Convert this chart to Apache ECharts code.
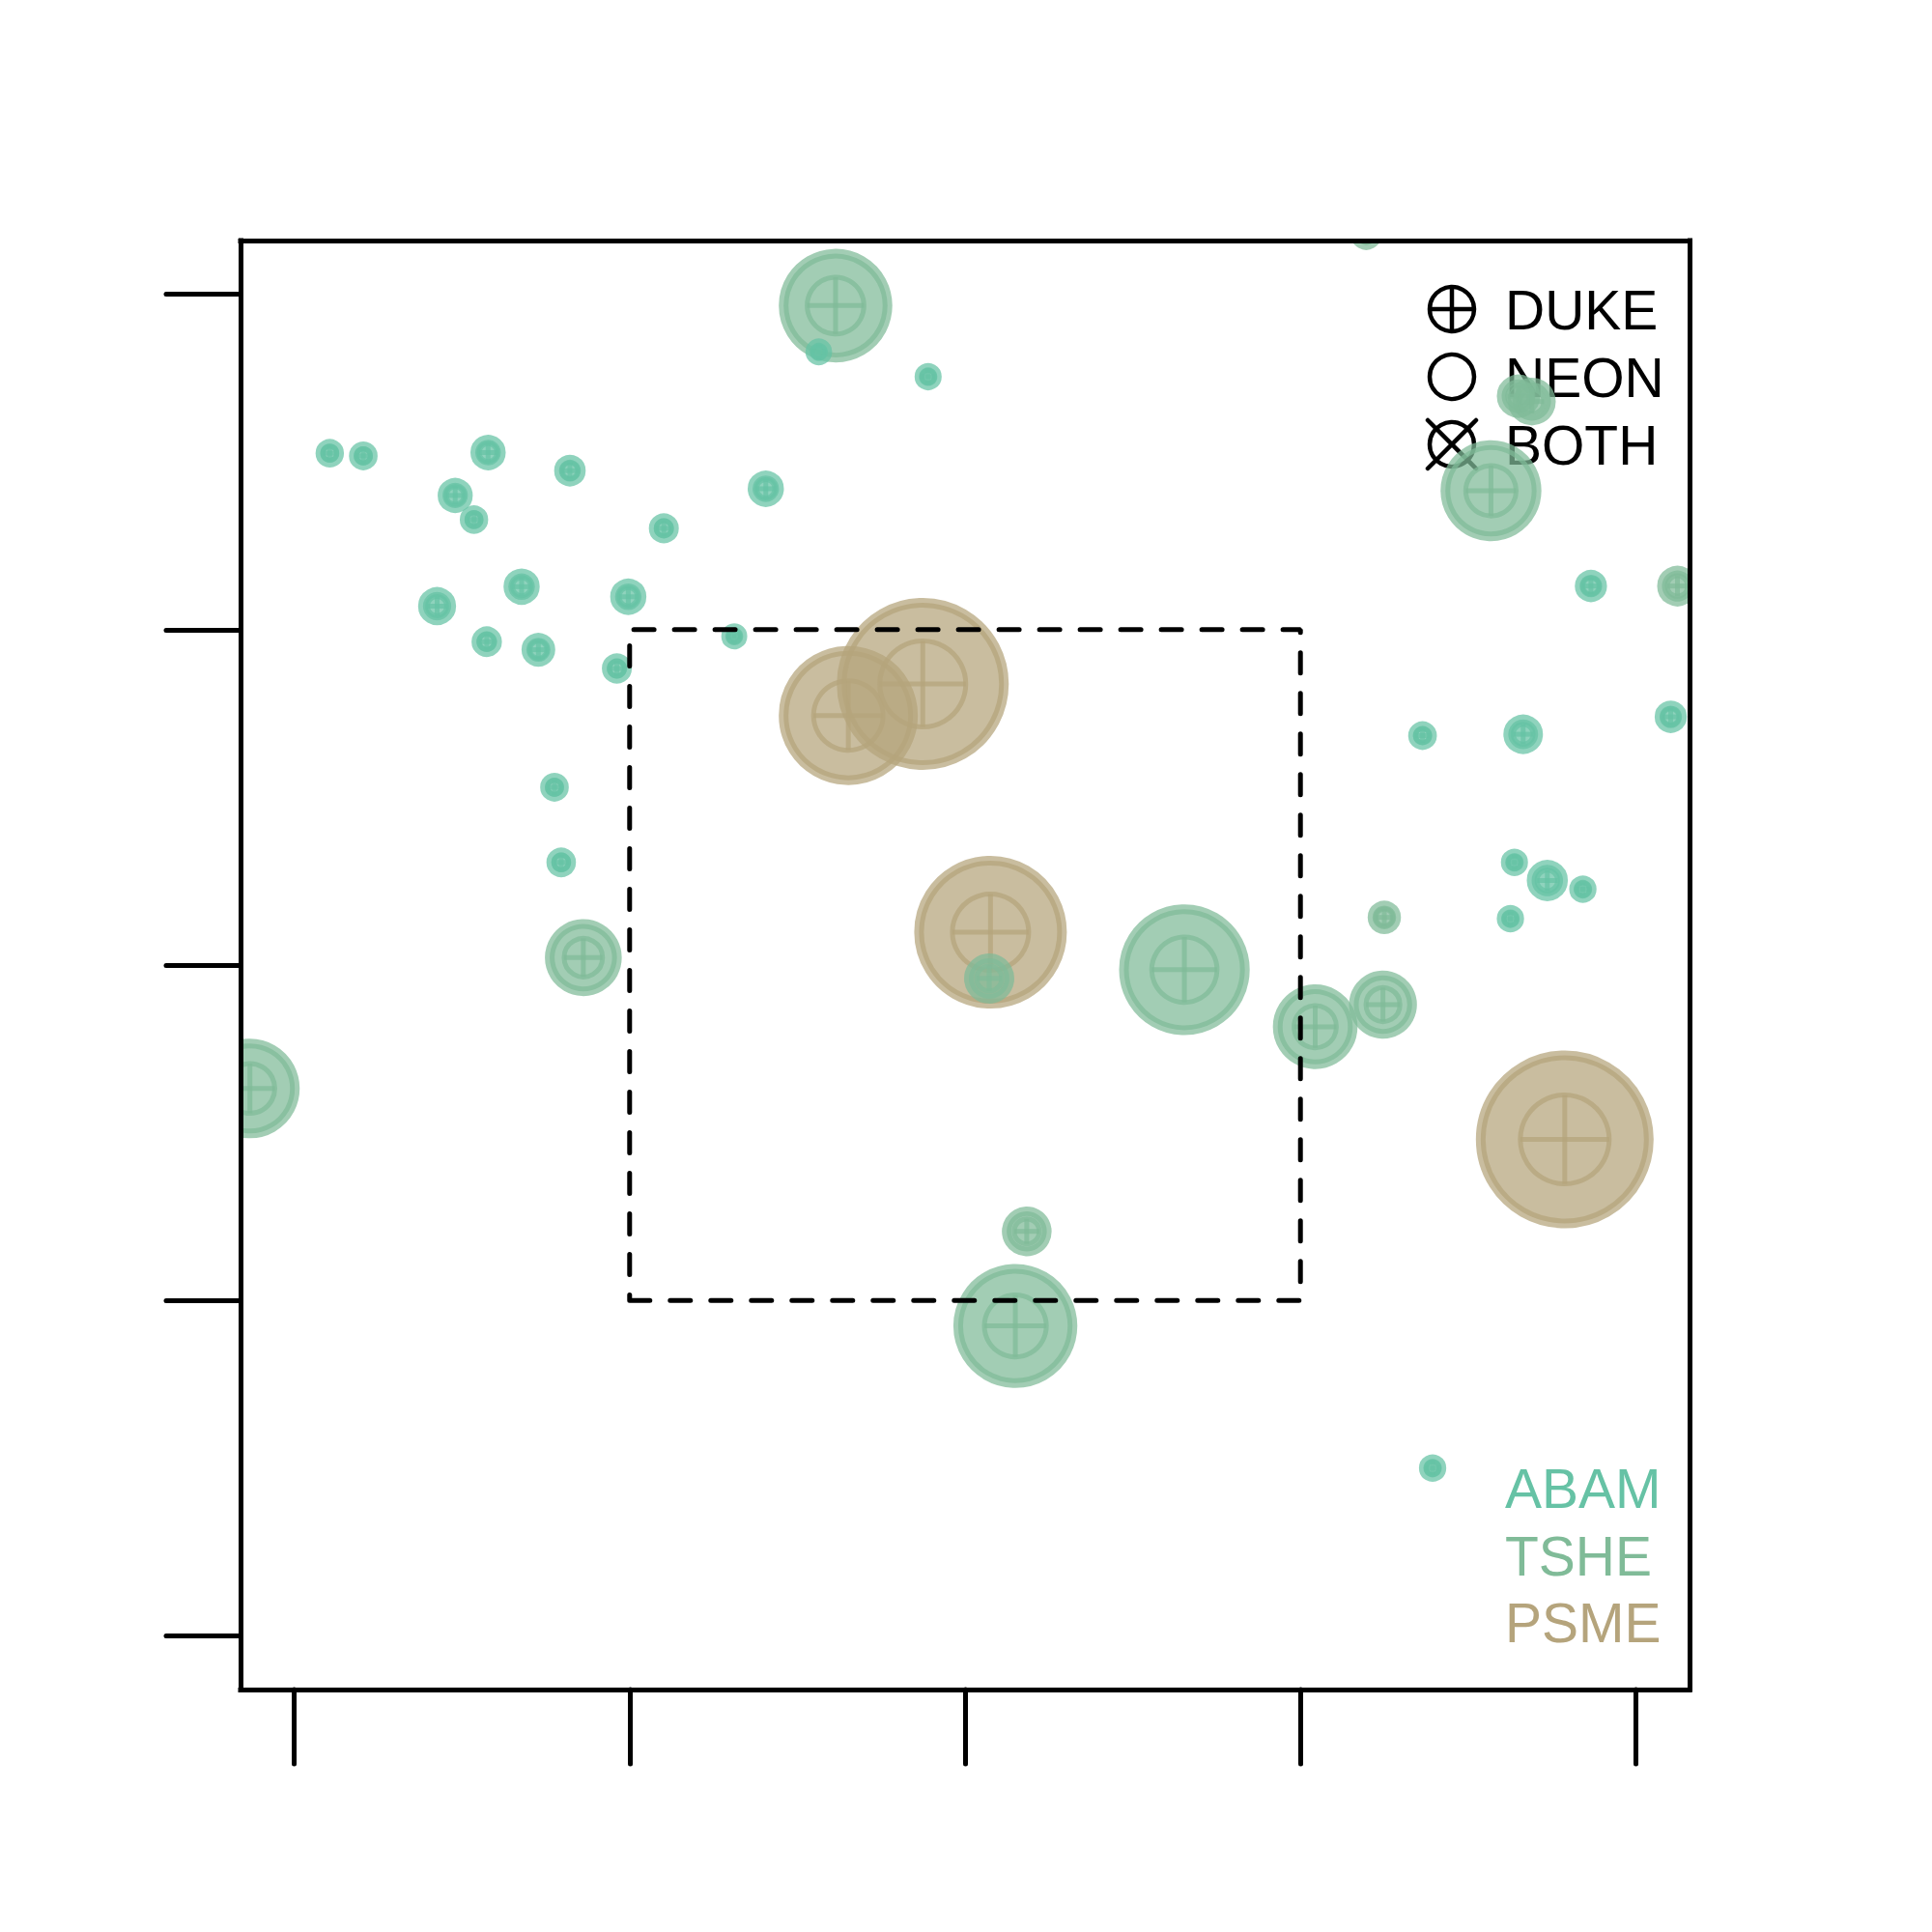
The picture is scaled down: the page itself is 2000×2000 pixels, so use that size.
<!DOCTYPE html>
<html>
<head>
<meta charset="utf-8">
<script src="https://cdn.jsdelivr.net/npm/echarts@6/dist/echarts.min.js"></script>
<style>
html,body{margin:0;padding:0;background:#fff;}
#chart{width:2000px;height:2000px;}
</style>
</head>
<body>
<div id="chart"></div>
<script>
// ---------------- DATA ----------------
// Stem positions (plot coordinates, m) and DBH (cm) by species
const abamX   = [0.53, 1.03, 2.89, 4.11, 2.40, 2.68, 5.51, 7.03, 3.39, 2.13, 4.98, 2.87, 3.64, 4.81, 6.56, 3.88, 3.98, 7.82, 9.45, 19.33, 20.52, 16.82, 18.32, 18.19, 18.68, 19.21, 18.13, 16.97];
const abamY   = [17.63, 17.59, 17.64, 17.37, 17.00, 16.64, 16.51, 17.10, 15.64, 15.35, 15.49, 14.82, 14.70, 14.42, 14.90, 12.65, 11.53, 19.14, 18.77, 15.65, 13.70, 13.42, 13.44, 11.53, 11.26, 11.13, 10.69, 2.50];
const abamDbh = [12.8, 12.9, 15.9, 14.2, 15.8, 12.8, 13.5, 16.3, 16.3, 17.1, 16.3, 13.7, 15.2, 13.5, 11.7, 12.9, 13.3, 12.0, 12.2, 14.5, 14.5, 12.9, 17.8, 12.2, 18.5, 12.3, 12.3, 12.3];

const tsheX   = [8.07, 15.98, 18.25, 18.45, 17.84, 20.62, 16.25, 15.22, 16.23, 4.31, -0.66, 10.36, 13.27, 10.92, 10.75];
const tsheY   = [19.83, 20.89, 18.48, 18.40, 17.07, 15.65, 10.71, 9.08, 9.41, 10.11, 8.16, 9.80, 9.93, 6.03, 4.62];
const tsheDbh = [51.1, 13.9, 19.5, 21.5, 45.4, 18.3, 15.0, 38.1, 30.6, 34.6, 44.8, 22.6, 58.8, 22.4, 55.8];

const psmeX   = [8.26, 9.37, 10.38, 18.94];
const psmeY   = [13.72, 14.19, 10.49, 7.40];
const psmeDbh = [62.6, 77.4, 68.7, 80.0];

const species = ['ABAM', 'TSHE', 'PSME'];
const sourceLabels = ['DUKE', 'NEON', 'BOTH'];
const tickValues = [0, 5, 10, 15, 20];
const innerX = [5, 15, 15, 5, 5];   // inner subplot outline (plot coordinates)
const innerY = [5, 5, 15, 15, 5];

// ---------------- STYLE ----------------
const speciesColor = { ABAM: [102, 194, 165], TSHE: [128, 187, 152], PSME: [181, 164, 124] };
const ALPHA = 0.73;
const PX_PER_CM = 1.15;
const RING = 10;
const FONT = '"Liberation Sans", Arial, Helvetica, sans-serif';

function rgba(c, a) { return 'rgba(' + c[0] + ',' + c[1] + ',' + c[2] + ',' + a + ')'; }
function hex(c) { return '#' + c.map(v => v.toString(16).padStart(2, '0')).join(''); }

function zipData(xs, ys, ds) { return xs.map((x, i) => [x, ys[i], ds[i]]); }

function bubbleRenderer(col) {
  return function (params, api) {
    const p = api.coord([api.value(0), api.value(1)]);
    const R = api.value(2) * PX_PER_CM;
    const rf = Math.max(R - RING / 2, 1);
    const ri = R * 0.5;
    const lw = 5;
    const c = rgba(col, ALPHA);
    return {
      type: 'group',
      children: [
        { type: 'circle', shape: { cx: p[0], cy: p[1], r: rf }, style: { fill: c, stroke: c, lineWidth: RING } },
        { type: 'circle', shape: { cx: p[0], cy: p[1], r: ri }, style: { fill: 'none', stroke: c, lineWidth: lw } },
        { type: 'line', shape: { x1: p[0] - ri, y1: p[1], x2: p[0] + ri, y2: p[1] }, style: { stroke: c, lineWidth: lw } },
        { type: 'line', shape: { x1: p[0], y1: p[1] - ri, x2: p[0], y2: p[1] + ri }, style: { stroke: c, lineWidth: lw } }
      ]
    };
  };
}

const dataBySpecies = {
  ABAM: zipData(abamX, abamY, abamDbh),
  TSHE: zipData(tsheX, tsheY, tsheDbh),
  PSME: zipData(psmeX, psmeY, psmeDbh)
};

// draw order: PSME first, then TSHE, then ABAM on top
const drawOrder = ['PSME', 'TSHE', 'ABAM'];
const bubbleSeries = drawOrder.map(sp => ({
  name: sp,
  type: 'custom',
  clip: true,
  z: 2,
  renderItem: bubbleRenderer(speciesColor[sp]),
  encode: { x: 0, y: 1 },
  data: dataBySpecies[sp],
  silent: true
}));

const axisLineStyle = { color: '#000', width: 5, cap: 'square' };
function makeAxis(pos, withTicks) {
  return {
    type: 'value',
    position: pos,
    min: -0.8,
    max: 20.8,
    z: 10,
    axisLine: { show: true, onZero: false, lineStyle: axisLineStyle },
    axisTick: withTicks ? { show: true, inside: false, length: 77, customValues: tickValues, lineStyle: { color: '#000', width: 5, cap: 'round' } } : { show: false },
    axisLabel: { show: false },
    splitLine: { show: false }
  };
}

// ---------------- LEGEND (graphic) ----------------
const legX = 1503, legTextX = 1558, legY0 = 320, legStep = 70, symR = 23, symLW = 4.5;
const graphics = [];
// DUKE: circle plus
graphics.push({ type: 'circle', shape: { cx: legX, cy: legY0, r: symR }, style: { fill: 'none', stroke: '#000', lineWidth: symLW } });
graphics.push({ type: 'line', shape: { x1: legX - symR, y1: legY0, x2: legX + symR, y2: legY0 }, style: { stroke: '#000', lineWidth: symLW } });
graphics.push({ type: 'line', shape: { x1: legX, y1: legY0 - symR, x2: legX, y2: legY0 + symR }, style: { stroke: '#000', lineWidth: symLW } });
// NEON: circle
graphics.push({ type: 'circle', shape: { cx: legX, cy: legY0 + legStep, r: symR }, style: { fill: 'none', stroke: '#000', lineWidth: symLW } });
// BOTH: circle times
const by = legY0 + 2 * legStep;
graphics.push({ type: 'circle', shape: { cx: legX, cy: by, r: symR }, style: { fill: 'none', stroke: '#000', lineWidth: symLW } });
graphics.push({ type: 'line', shape: { x1: legX - 25, y1: by - 25, x2: legX + 25, y2: by + 25 }, style: { stroke: '#000', lineWidth: symLW, lineCap: 'round' } });
graphics.push({ type: 'line', shape: { x1: legX - 25, y1: by + 25, x2: legX + 25, y2: by - 25 }, style: { stroke: '#000', lineWidth: symLW, lineCap: 'round' } });
sourceLabels.forEach((t, i) => {
  graphics.push({ type: 'text', x: legTextX, y: legY0 + i * legStep + 1, style: { text: t, fill: '#000', font: '57px ' + FONT, textAlign: 'left', textVerticalAlign: 'middle', align: 'left', verticalAlign: 'middle' } });
});
const spY0 = 1541;
species.forEach((t, i) => {
  graphics.push({ type: 'text', x: legTextX, y: spY0 + i * 69.5, style: { text: t, fill: hex(speciesColor[t]), font: '57px ' + FONT, textAlign: 'left', textVerticalAlign: 'middle', align: 'left', verticalAlign: 'middle' } });
});

const option = {
  backgroundColor: '#fff',
  animation: false,
  grid: { left: 249, top: 249, width: 1500, height: 1500, containLabel: false },
  xAxis: [makeAxis('bottom', true), makeAxis('top', false)],
  yAxis: [makeAxis('left', true), makeAxis('right', false)],
  series: bubbleSeries.concat([{
    name: 'inner plot',
    type: 'line',
    z: 5,
    symbol: 'none',
    silent: true,
    data: innerX.map((x, i) => [x, innerY[i]]),
    lineStyle: { color: '#000', width: 5, type: [21, 21], cap: 'round' }
  }]),
  graphic: graphics
};

const chart = echarts.init(document.getElementById('chart'), null, { renderer: 'svg', width: 2000, height: 2000 });
chart.setOption(option);
</script>
</body>
</html>
